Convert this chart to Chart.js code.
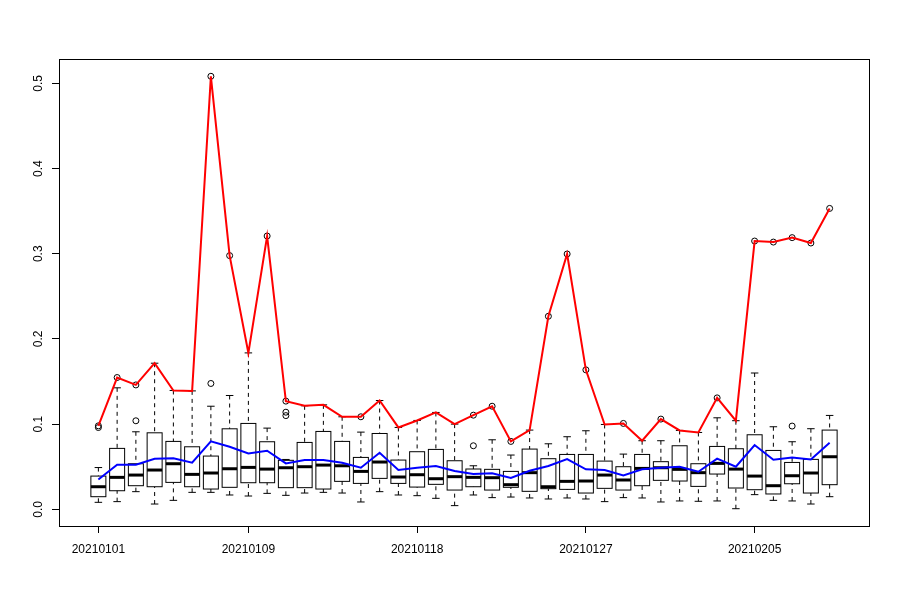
<!DOCTYPE html>
<html>
<head>
<meta charset="utf-8">
<script src="https://cdn.jsdelivr.net/npm/chart.js@4/dist/chart.umd.min.js"></script>
<style>
  html, body { margin: 0; padding: 0; background: #ffffff; }
  #wrap { width: 900px; height: 600px; }
</style>
</head>
<body>
<div id="wrap"><canvas id="c" width="900" height="600"></canvas></div>
<script>
// ---- data ----
const dates = ['20210101','20210102','20210103','20210104','20210105','20210106','20210107','20210108','20210109','20210110',
               '20210111','20210112','20210113','20210114','20210115','20210116','20210117','20210118','20210119','20210120',
               '20210121','20210122','20210123','20210124','20210125','20210126','20210127','20210128','20210129','20210130',
               '20210131','20210201','20210202','20210203','20210204','20210205','20210206','20210207','20210208','20210209'];

const whiskerLow = [0.0082,0.0090,0.0207,0.0062,0.0105,0.0199,0.0199,0.0168,0.0156,0.0187,
                    0.0164,0.0191,0.0199,0.0191,0.0086,0.0207,0.0168,0.0160,0.0129,0.0043,
                    0.0168,0.0137,0.0144,0.0133,0.0121,0.0133,0.0121,0.0090,0.0137,0.0133,
                    0.0086,0.0098,0.0094,0.0098,0.0007,0.0172,0.0105,0.0098,0.0062,0.0148];
const quart1 = [0.0148,0.0218,0.0277,0.0265,0.0316,0.0265,0.0238,0.0258,0.0312,0.0312,
                0.0254,0.0254,0.0238,0.0328,0.0304,0.0363,0.0304,0.0261,0.0293,0.0226,
                0.0265,0.0226,0.0258,0.0211,0.0242,0.0234,0.0191,0.0246,0.0226,0.0277,
                0.0340,0.0332,0.0269,0.0414,0.0250,0.0230,0.0180,0.0300,0.0191,0.0289];
const medians = [0.0265,0.0375,0.0402,0.0461,0.0535,0.0410,0.0426,0.0476,0.0492,0.0472,
                 0.0488,0.0500,0.0519,0.0511,0.0445,0.0555,0.0379,0.0406,0.0359,0.0383,
                 0.0375,0.0371,0.0289,0.0430,0.0265,0.0328,0.0332,0.0402,0.0344,0.0480,
                 0.0488,0.0469,0.0430,0.0539,0.0472,0.0390,0.0277,0.0394,0.0426,0.0617];
const quart3 = [0.0390,0.0715,0.0535,0.0898,0.0797,0.0734,0.0625,0.0945,0.1008,0.0793,
                0.0575,0.0785,0.0914,0.0797,0.0609,0.0890,0.0578,0.0676,0.0703,0.0570,
                0.0473,0.0469,0.0445,0.0707,0.0594,0.0644,0.0644,0.0566,0.0500,0.0644,
                0.0559,0.0746,0.0535,0.0738,0.0711,0.0875,0.0691,0.0550,0.0586,0.0930];
const whiskerHigh = [0.0490,0.1426,0.0910,0.1715,0.1395,0.1390,0.1210,0.1336,0.1836,0.0953,
                     0.0585,0.1215,0.1226,0.1086,0.0906,0.1277,0.0961,0.1043,0.1137,0.1000,
                     0.0511,0.0816,0.0637,0.0930,0.0769,0.0852,0.0922,0.0996,0.0648,0.0805,
                     0.0805,0.0926,0.0902,0.1074,0.1040,0.1600,0.0969,0.0793,0.0946,0.1102];
const outliers = [[0.096,0.098],[0.1547],[0.1039,0.146],[],[],[],[0.1477,0.5083],[0.2978],[],[0.3208],
                  [0.110,0.114,0.127],[],[],[],[0.1086],[],[],[],[],[],
                  [0.0746,0.1105],[0.121],[0.0797],[],[0.2266],[0.2997],[0.1637],[],[0.1008],[],
                  [0.1059],[],[],[0.1308],[],[0.3149],[0.3137],[0.0977,0.3189],[0.3126],[0.3532]];
const maxValues = [0.0980,0.1547,0.1460,0.1715,0.1395,0.1390,0.5083,0.2978,0.1836,0.3208,
                   0.1270,0.1215,0.1226,0.1086,0.1086,0.1277,0.0961,0.1043,0.1137,0.1000,
                   0.1105,0.1210,0.0797,0.0930,0.2266,0.2997,0.1637,0.0996,0.1008,0.0805,
                   0.1059,0.0926,0.0902,0.1308,0.1040,0.3149,0.3137,0.3189,0.3126,0.3532];
const meanValues = [0.0350,0.0523,0.0523,0.0594,0.0598,0.0547,0.0797,0.0734,0.0656,0.0687,
                    0.0539,0.0578,0.0578,0.0547,0.0488,0.0664,0.0461,0.0488,0.0508,0.0449,
                    0.0414,0.0422,0.0367,0.0453,0.0508,0.0590,0.0469,0.0461,0.0398,0.0469,
                    0.0488,0.0500,0.0441,0.0594,0.0500,0.0754,0.0582,0.0609,0.0586,0.0781];
const xTickPositions = [1, 9, 18, 27, 36];
const yTickValues = [0, 0.1, 0.2, 0.3, 0.4, 0.5];
const yTickLabels = ['0.0','0.1','0.2','0.3','0.4','0.5'];

// ---- boxplot + frame drawing through the chart scales ----
const boxPlugin = {
  id: 'rboxplot',
  beforeDatasetsDraw(chart) {
    const ctx = chart.ctx;
    const xs = chart.scales.x, ys = chart.scales.y;
    const hw = Math.abs(xs.getPixelForValue(0.4) - xs.getPixelForValue(0));
    const line = (x1, y1, x2, y2) => { ctx.beginPath(); ctx.moveTo(x1, y1); ctx.lineTo(x2, y2); ctx.stroke(); };
    ctx.save();
    ctx.strokeStyle = '#000000';
    for (let i = 0; i < dates.length; i++) {
      const cx = xs.getPixelForValue(i + 1);
      const pLo = ys.getPixelForValue(whiskerLow[i]);
      const pQ1 = ys.getPixelForValue(quart1[i]);
      const pMed = ys.getPixelForValue(medians[i]);
      const pQ3 = ys.getPixelForValue(quart3[i]);
      const pHi = ys.getPixelForValue(whiskerHigh[i]);
      ctx.lineWidth = 1;
      ctx.setLineDash([4, 4]);
      line(cx, pHi, cx, pQ3);
      line(cx, pLo, cx, pQ1);
      ctx.setLineDash([]);
      line(cx - hw / 2, pHi, cx + hw / 2, pHi);
      line(cx - hw / 2, pLo, cx + hw / 2, pLo);
      ctx.strokeRect(cx - hw, pQ3, 2 * hw, pQ1 - pQ3);
      ctx.lineWidth = 3;
      ctx.lineCap = 'butt';
      line(cx - hw, pMed, cx + hw, pMed);
      ctx.lineWidth = 1;
      for (const o of outliers[i]) {
        ctx.beginPath();
        ctx.arc(cx, ys.getPixelForValue(o), 3, 0, Math.PI * 2);
        ctx.stroke();
      }
    }
    ctx.restore();
  },
  afterDraw(chart) {
    const ctx = chart.ctx;
    const a = chart.chartArea;
    const ys = chart.scales.y;
    ctx.save();
    ctx.strokeStyle = '#000000';
    ctx.lineWidth = 1;
    ctx.strokeRect(Math.round(a.left) + 0.5, Math.round(a.top) + 0.5,
                   Math.round(a.right - a.left), Math.round(a.bottom - a.top));
    ctx.fillStyle = '#000000';
    ctx.font = '12px "Liberation Sans", Arial, sans-serif';
    ctx.textAlign = 'center';
    ctx.textBaseline = 'alphabetic';
    yTickValues.forEach((v, k) => {
      const py = ys.getPixelForValue(v);
      ctx.save();
      ctx.translate(a.left - 17.5, py);
      ctx.rotate(-Math.PI / 2);
      ctx.fillText(yTickLabels[k], 0, 0);
      ctx.restore();
    });
    ctx.restore();
  }
};

new Chart(document.getElementById('c'), {
  type: 'line',
  data: {
    datasets: [
      {
        label: 'max',
        data: maxValues.map((v, i) => ({ x: i + 1, y: v })),
        borderColor: '#ff0000',
        borderWidth: 2,
        pointRadius: 0,
        tension: 0,
        fill: false
      },
      {
        label: 'mean',
        data: meanValues.map((v, i) => ({ x: i + 1, y: v })),
        borderColor: '#0000ff',
        borderWidth: 2,
        pointRadius: 0,
        tension: 0,
        fill: false
      }
    ]
  },
  options: {
    responsive: false,
    animation: false,
    layout: { padding: { top: 59, right: 31, bottom: 0, left: 0 } },
    plugins: { legend: { display: false }, tooltip: { enabled: false } },
    scales: {
      x: {
        type: 'linear',
        min: -1.1,
        max: 42.1,
        afterBuildTicks: (s) => { s.ticks = xTickPositions.map(v => ({ value: v })); },
        afterFit: (s) => { s.height = 74; },
        grid: { drawOnChartArea: false, drawTicks: true, tickLength: 7, color: '#000000' },
        border: { display: false },
        ticks: {
          autoSkip: false,
          maxRotation: 0,
          minRotation: 0,
          padding: 9,
          color: '#000000',
          font: { family: '"Liberation Sans", Arial, sans-serif', size: 12 },
          callback: (v) => dates[v - 1]
        }
      },
      y: {
        type: 'linear',
        min: -0.0196,
        max: 0.5286,
        afterBuildTicks: (s) => { s.ticks = yTickValues.map(v => ({ value: v })); },
        afterFit: (s) => { s.width = 59; },
        grid: { drawOnChartArea: false, drawTicks: true, tickLength: 7, color: '#000000' },
        border: { display: false },
        ticks: { display: false }
      }
    }
  },
  plugins: [boxPlugin]
});
</script>
</body>
</html>
